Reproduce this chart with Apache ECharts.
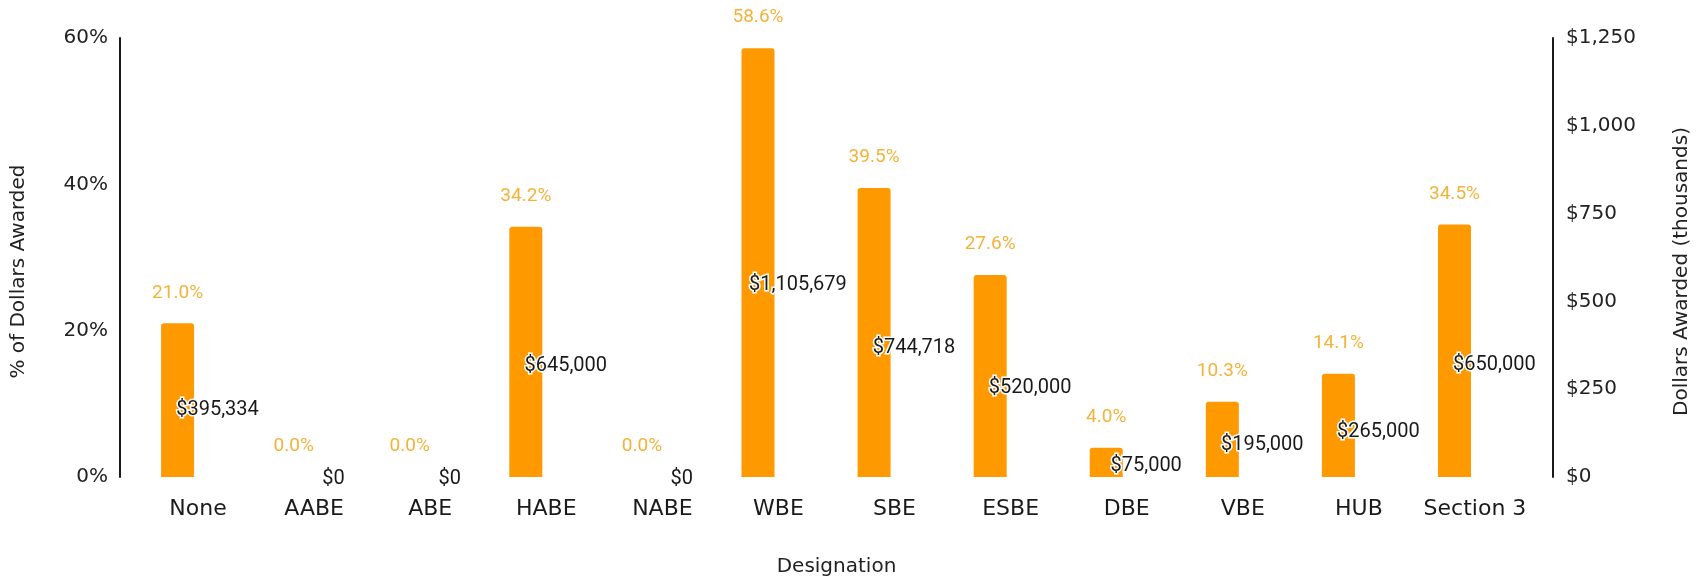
<!DOCTYPE html>
<html>
<head>
<meta charset="utf-8">
<title>Dollars Awarded by Designation</title>
<script src="https://cdn.jsdelivr.net/npm/echarts@6/dist/echarts.min.js"></script>
<style>
  html, body { margin: 0; padding: 0; background: #ffffff; }
  #chart { width: 1707px; height: 578px; }
</style>
</head>
<body>
<div id="chart"></div>
<script>
// Designation categories along the x axis
const categories = ['None', 'AABE', 'ABE', 'HABE', 'NABE', 'WBE', 'SBE', 'ESBE', 'DBE', 'VBE', 'HUB', 'Section 3'];
// Share of dollars awarded (%), left axis
const percentAwarded = [21.0, 0.0, 0.0, 34.2, 0.0, 58.6, 39.5, 27.6, 4.0, 10.3, 14.1, 34.5];
// Dollars awarded, plotted in thousands on the right axis
const dollarsAwarded = [395334, 0, 0, 645000, 0, 1105679, 744718, 520000, 75000, 195000, 265000, 650000];
// Axis ranges and tick steps
const percentTicks = { min: 0, max: 60, interval: 20 };
const dollarTicksK = { min: 0, max: 1250, interval: 250 };

const fmtDollars = v => '$' + Math.round(v).toLocaleString('en-US');
const axisFont = 'DejaVu Sans';
const labelFont = 'Roboto';

const chart = echarts.init(document.getElementById('chart'), null, { renderer: 'canvas' });

chart.setOption({
  backgroundColor: '#ffffff',
  animation: false,
  grid: { left: 140, right: 174, top: 38, bottom: 101, containLabel: false, outerBoundsMode: 'none' },
  xAxis: {
    type: 'category',
    data: categories,
    name: 'Designation',
    nameLocation: 'middle',
    nameGap: 80,
    nameTextStyle: { fontFamily: axisFont, fontSize: 20, color: '#222' },
    axisLine: { show: false },
    axisTick: { show: false },
    axisLabel: { fontFamily: axisFont, fontSize: 22, color: '#1a1a1a', margin: 21, interval: 0 }
  },
  yAxis: [
    {
      type: 'value',
      position: 'left',
      offset: 20,
      min: percentTicks.min, max: percentTicks.max, interval: percentTicks.interval,
      name: '% of Dollars Awarded',
      nameLocation: 'middle',
      nameRotate: 90,
      nameGap: 91,
      nameTextStyle: { fontFamily: axisFont, fontSize: 20, color: '#222', padding: [0, 28, 0, 0] },
      axisLine: { show: true, lineStyle: { color: '#1a1a1a', width: 2 } },
      axisTick: { show: false },
      splitLine: { show: false },
      axisLabel: { fontFamily: axisFont, fontSize: 20, color: '#222', margin: 12, padding: [4, 0, 0, 0], formatter: '{value}%' }
    },
    {
      type: 'value',
      position: 'right',
      offset: 20,
      min: dollarTicksK.min, max: dollarTicksK.max, interval: dollarTicksK.interval,
      name: 'Dollars Awarded (thousands)',
      nameLocation: 'middle',
      nameRotate: 90,
      nameGap: 119,
      nameTextStyle: { fontFamily: axisFont, fontSize: 20, color: '#222', padding: [0, 28, 0, 0] },
      axisLine: { show: true, lineStyle: { color: '#1a1a1a', width: 2 } },
      axisTick: { show: false },
      splitLine: { show: false },
      axisLabel: { fontFamily: axisFont, fontSize: 20, color: '#222', margin: 13, padding: [4, 0, 0, 0], formatter: v => fmtDollars(v) }
    }
  ],
  series: [
    {
      name: '% of Dollars Awarded',
      type: 'bar',
      yAxisIndex: 0,
      data: percentAwarded,
      barWidth: 33,
      barGap: '24%',
      itemStyle: { color: '#ff9900', borderRadius: [3, 3, 0, 0] },
      label: {
        show: true,
        position: 'top',
        distance: 21,
        fontFamily: labelFont,
        fontSize: 19,
        color: '#f3b23a',
        textBorderColor: '#ffffff',
        textBorderWidth: 3,
        formatter: p => p.value.toFixed(1) + '%'
      }
    },
    {
      name: 'Dollars Awarded',
      type: 'bar',
      yAxisIndex: 1,
      data: dollarsAwarded.map(v => v / 1000),
      barWidth: 33,
      itemStyle: { color: 'rgba(0,0,0,0)' },
      z: 5,
      label: {
        show: true,
        position: 'inside',
        offset: [-1, 2],
        fontFamily: labelFont,
        fontSize: 20,
        color: '#1a1a1a',
        textBorderColor: '#ffffff',
        textBorderWidth: 3,
        formatter: p => fmtDollars(dollarsAwarded[p.dataIndex])
      }
    }
  ]
});
</script>
</body>
</html>
